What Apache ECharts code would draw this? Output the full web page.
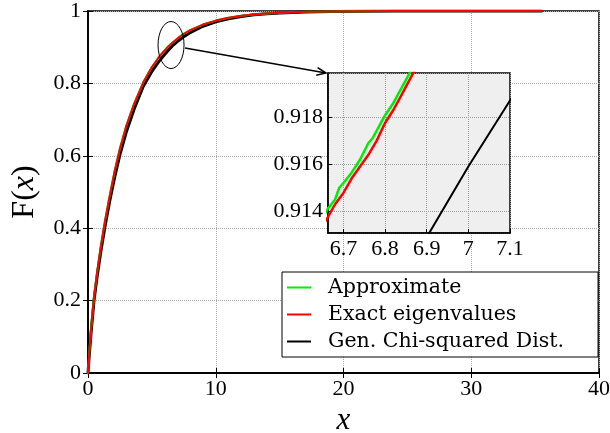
<!DOCTYPE html>
<html>
<head>
<meta charset="utf-8">
<script src="https://cdn.jsdelivr.net/npm/echarts@6/dist/echarts.min.js"></script>
<style>
html,body{margin:0;padding:0;background:#fff;}
#c{width:610px;height:433px;}
</style>
</head>
<body>
<div id="c"></div>
<script>
// ---- data ----
const chiX = [0,0.1,0.25,0.47,0.7,1.0,1.33,1.7,2.1,2.5,3.0,3.6,4.33,5.0,5.6,6.2,6.6,6.9,7.0,7.1,7.5,8,9,10,11,12,13,14,15,17,19,21,24,28,35.5];
const chiF = [0,0.05,0.115,0.2,0.263,0.335,0.405,0.475,0.543,0.603,0.666,0.728,0.792,0.833,0.863,0.888,0.9035,0.9129,0.9159,0.9187,0.9292,0.9405,0.9578,0.9701,0.9788,0.985,0.9894,0.9925,0.9947,0.9973,0.9987,0.9993,0.9998,1,1];

const exactX = [0,0.1,0.25,0.47,0.7,1.0,1.33,1.7,2.1,2.5,3.0,3.6,4.33,5.0,5.6,6.2,6.6,6.663,6.68,6.70,6.72,6.74,6.76,6.78,6.80,6.82,6.84,6.87,7.1,7.5,8,9,10,11,12,13,14,15,17,19,21,24,28,35.5];
const exactF = [0,0.058,0.125,0.21,0.275,0.35,0.42,0.49,0.56,0.62,0.683,0.743,0.803,0.845,0.875,0.899,0.9119,0.91376,0.91430,0.91478,0.91540,0.91590,0.91640,0.91700,0.91775,0.91830,0.91895,0.91995,0.9266,0.937,0.947,0.9625,0.9735,0.9812,0.9867,0.9906,0.9934,0.9953,0.9977,0.9989,0.9995,0.9999,1,1];

const approxX = [0,0.1,0.25,0.47,0.7,1.0,1.33,1.7,2.1,2.5,3.0,3.6,4.33,5.0,5.6,6.2,6.6,6.663,6.68,6.69,6.70,6.72,6.74,6.76,6.77,6.79,6.80,6.82,6.84,6.86,7.1,7.5,8,9,10,11,12,13,14,15,17,19,21,24,28,35.5];
const approxF = [0,0.058,0.125,0.21,0.275,0.35,0.42,0.49,0.56,0.62,0.683,0.743,0.803,0.845,0.875,0.899,0.9122,0.91412,0.91450,0.91500,0.91520,0.91565,0.91620,0.91690,0.91710,0.91775,0.91808,0.91860,0.91925,0.91990,0.9270,0.937,0.947,0.9625,0.9735,0.9812,0.9867,0.9906,0.9934,0.9953,0.9977,0.9989,0.9995,0.9999,1,1];

const seriesNames = ['Approximate', 'Exact eigenvalues', 'Gen. Chi-squared Dist.'];
const mainXRange = [0, 40];
const mainYRange = [0, 1];
const insetXRange = [6.663, 7.1];
const insetYRange = [0.91308, 0.91987];
const zoomCenter = [6.5, 0.906];

// ---- build ----
const FONT = 'Liberation Serif';
const LEGEND_FONT = 'DejaVu Serif';
const pairs = (xs, ys) => xs.map((x, i) => [x, ys[i]]);
const GREEN = '#00ee00', RED = '#ff0000', BLACK = '#000000';

const chart = echarts.init(document.getElementById('c'), null, {renderer: 'canvas'});

function lineSeries(name, data, color, width, xi, yi, z) {
  return {
    type: 'line', name, data, xAxisIndex: xi, yAxisIndex: yi,
    showSymbol: false, symbol: 'none', smooth: false, z, clip: true,
    color: color,
    lineStyle: {color, width, join: 'round', cap: 'round'},
    itemStyle: {color}
  };
}

const labelStyle = {fontFamily: FONT, fontSize: 22, color: '#000'};
const splitDotted = (c) => ({show: true, lineStyle: {type: 'dotted', color: c, width: 1}});

const option = {
  animation: false,
  backgroundColor: '#fff',
  grid: [
    {left: 88, right: 11, top: 11, bottom: 60, show: true, backgroundColor: 'transparent', borderColor: '#000', borderWidth: 1.5, z: 0,
     outerBoundsMode: 'none', containLabel: false},
    {left: 328, top: 73, width: 182, height: 160, show: true, backgroundColor: '#efefef', borderColor: '#000', borderWidth: 1.5, z: 6,
     outerBoundsMode: 'none', containLabel: false}
  ],
  xAxis: [
    {type: 'value', gridIndex: 0, min: mainXRange[0], max: mainXRange[1], interval: 10, position: 'bottom',
     axisLine: {show: true, lineStyle: {color: '#000', width: 1.5}},
     axisTick: {inside: true, length: 5, lineStyle: {color: '#000'}},
     axisLabel: Object.assign({margin: 5}, labelStyle),
     splitLine: splitDotted('#aaaaaa'),
     name: 'x', nameLocation: 'middle', nameGap: 27,
     nameTextStyle: {fontFamily: FONT, fontStyle: 'italic', fontSize: 31, color: '#000'}},
    {type: 'value', gridIndex: 0, min: mainXRange[0], max: mainXRange[1], interval: 10, position: 'top',
     axisLine: {show: true, lineStyle: {color: '#000', width: 1.5}},
     axisTick: {inside: true, length: 5, lineStyle: {color: '#000'}},
     axisLabel: {show: false}, splitLine: {show: false}},
    {type: 'value', gridIndex: 1, min: insetXRange[0], max: insetXRange[1], splitNumber: 5, z: 7,
     axisLine: {show: true, onZero: false, lineStyle: {color: '#000', width: 1.5}},
     axisTick: {inside: true, length: 4, lineStyle: {color: '#000'}},
     axisLabel: Object.assign({margin: 5, showMinLabel: false}, labelStyle),
     splitLine: splitDotted('#999999')}
  ],
  yAxis: [
    {type: 'value', gridIndex: 0, min: mainYRange[0], max: mainYRange[1], interval: 0.2, position: 'left',
     axisLine: {show: true, lineStyle: {color: '#000', width: 1.5}},
     axisTick: {inside: true, length: 5, lineStyle: {color: '#000'}},
     axisLabel: Object.assign({margin: 7}, labelStyle),
     splitLine: splitDotted('#aaaaaa'),
     name: 'F({i|x})', nameLocation: 'middle', nameGap: 47, nameRotate: 90,
     nameTextStyle: {fontFamily: FONT, fontSize: 32, color: '#000',
       rich: {i: {fontFamily: FONT, fontStyle: 'italic', fontSize: 32, color: '#000'}}}},
    {type: 'value', gridIndex: 0, min: mainYRange[0], max: mainYRange[1], interval: 0.2, position: 'right',
     axisLine: {show: true, lineStyle: {color: '#000', width: 1.5}},
     axisTick: {inside: true, length: 5, lineStyle: {color: '#000'}},
     axisLabel: {show: false}, splitLine: {show: false}},
    {type: 'value', gridIndex: 1, min: insetYRange[0], max: insetYRange[1], splitNumber: 3, z: 7,
     axisLine: {show: true, onZero: false, lineStyle: {color: '#000', width: 1.5}},
     axisTick: {inside: true, length: 4, lineStyle: {color: '#000'}},
     axisLabel: Object.assign({margin: 5, showMinLabel: false, showMaxLabel: false,
       formatter: v => v.toFixed(3)}, labelStyle),
     splitLine: splitDotted('#999999')}
  ],
  legend: {
    data: seriesNames, orient: 'vertical', left: 282, top: 272,
    // line sample 24px wide, then blank room so the text starts further right
    icon: 'path://M0,0L24,0L24,2L0,2Z M36,0L36,2Z',
    itemWidth: 36, itemHeight: 2, itemGap: 6,
    itemStyle: {borderWidth: 0},
    textStyle: {fontFamily: LEGEND_FONT, fontSize: 20.5, color: '#000'},
    borderColor: '#000', borderWidth: 1, borderRadius: 0,
    padding: [5, 34, 5, 5], backgroundColor: '#fff', z: 20
  },
  series: [
    lineSeries(seriesNames[2], pairs(chiX, chiF), BLACK, 3, 0, 0, 2),
    lineSeries(seriesNames[0], pairs(approxX, approxF), GREEN, 2, 0, 0, 3),
    lineSeries(seriesNames[1], pairs(exactX, exactF), RED, 2, 0, 0, 4),
    lineSeries(seriesNames[2], pairs(chiX, chiF), BLACK, 2, 2, 2, 10),
    lineSeries(seriesNames[0], pairs(approxX, approxF), GREEN, 2.5, 2, 2, 11),
    lineSeries(seriesNames[1], pairs(exactX, exactF), RED, 2.5, 2, 2, 12)
  ]
};
chart.setOption(option);

// zoom annotation: ellipse + arrow to inset corner
const c = chart.convertToPixel({gridIndex: 0}, zoomCenter);
const corner = chart.convertToPixel({gridIndex: 1}, [insetXRange[0], insetYRange[1]]);
const rx = 13, ry = 23.5;
const start = [c[0] + rx + 1, c[1] + 3];
const tip = [corner[0] - 2, corner[1]];
const ang = Math.atan2(tip[1] - start[1], tip[0] - start[0]);
const hl = 10, ha = 0.4;
const h1 = [tip[0] - hl * Math.cos(ang - ha), tip[1] - hl * Math.sin(ang - ha)];
const h2 = [tip[0] - hl * Math.cos(ang + ha), tip[1] - hl * Math.sin(ang + ha)];
chart.setOption({
  graphic: [
    {type: 'ellipse', shape: {cx: c[0], cy: c[1], rx, ry}, style: {fill: null, stroke: '#000', lineWidth: 1}, z: 30, silent: true},
    {type: 'line', shape: {x1: start[0], y1: start[1], x2: tip[0], y2: tip[1]}, style: {stroke: '#000', lineWidth: 1.5}, z: 30, silent: true},
    {type: 'polyline', shape: {points: [h1, tip, h2]}, style: {stroke: '#000', lineWidth: 1.5, fill: null}, z: 30, silent: true}
  ]
});
</script>
</body>
</html>
